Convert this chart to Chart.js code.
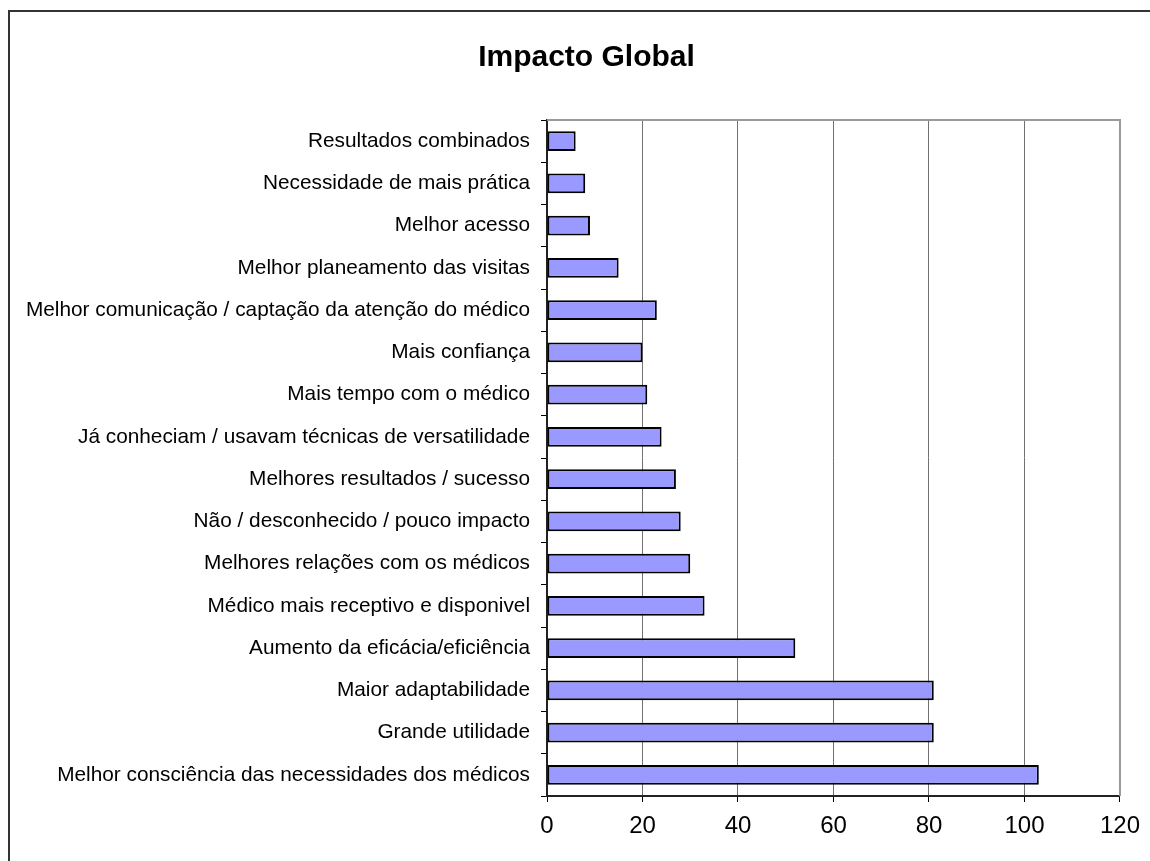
<!DOCTYPE html>
<html>
<head>
  <meta charset="utf-8">
  <script src="https://cdn.jsdelivr.net/npm/chart.js@4.4.1/dist/chart.umd.min.js"></script>
  <style>
    html, body { margin: 0; padding: 0; background: #fff; }
    #wrap { width: 1150px; height: 861px; }
  </style>
</head>
<body>
  <div id="wrap">
    <canvas id="chartContainer" width="1150" height="861"></canvas>
  </div>
  <script>
    const chartTitle = 'Impacto Global';

    const categories = [
      'Resultados combinados',
      'Necessidade de mais prática',
      'Melhor acesso',
      'Melhor planeamento das visitas',
      'Melhor comunicação / captação da atenção do médico',
      'Mais confiança',
      'Mais tempo com o médico',
      'Já conheciam / usavam técnicas de versatilidade',
      'Melhores resultados / sucesso',
      'Não / desconhecido / pouco impacto',
      'Melhores relações com os médicos',
      'Médico mais receptivo e disponivel',
      'Aumento da eficácia/eficiência',
      'Maior adaptabilidade',
      'Grande utilidade',
      'Melhor consciência das necessidades dos médicos'
    ];

    const counts = [6, 8, 9, 15, 23, 20, 21, 24, 27, 28, 30, 33, 52, 81, 81, 103];

    const xTicks = [0, 20, 40, 60, 80, 100, 120];

    // white background, outer frame and grey plot border
    const framePlugin = {
      id: 'frame',
      afterLayout(chart) {
        // let the long category labels use the space left of the axis box
        chart.scales.y.left = 12;
      },
      beforeDraw(chart) {
        const ctx = chart.ctx;
        ctx.save();
        ctx.fillStyle = '#fff';
        ctx.fillRect(0, 0, chart.width, chart.height);
        ctx.strokeStyle = '#333';
        ctx.lineWidth = 2;
        ctx.beginPath();
        ctx.moveTo(9, chart.height);
        ctx.lineTo(9, 11);
        ctx.lineTo(chart.width, 11);
        ctx.stroke();
        ctx.restore();
      },
      beforeDatasetsDraw(chart) {
        const a = chart.chartArea;
        const ctx = chart.ctx;
        ctx.save();
        ctx.strokeStyle = '#999';
        ctx.lineWidth = 2;
        ctx.beginPath();
        ctx.moveTo(a.left, a.top);
        ctx.lineTo(a.right, a.top);
        ctx.lineTo(a.right, a.bottom);
        ctx.stroke();
        ctx.restore();
      }
    };

    const ctx = document.getElementById('chartContainer').getContext('2d');
    const myChart = new Chart(ctx, {
      type: 'bar',
      data: {
        labels: categories,
        datasets: [{
          data: counts,
          backgroundColor: '#9999FF',
          borderColor: '#000',
          borderWidth: 2,
          borderSkipped: false,
          barPercentage: 0.47,
          categoryPercentage: 1
        }]
      },
      options: {
        indexAxis: 'y',
        responsive: false,
        animation: false,
        layout: {
          padding: { left: 51, right: 28, top: 0, bottom: 0 }
        },
        plugins: {
          legend: { display: false },
          tooltip: { enabled: false },
          title: {
            display: true,
            text: chartTitle,
            color: '#000',
            font: { family: 'Liberation Sans, Arial, sans-serif', size: 30, weight: 'bold' },
            padding: { top: 40, bottom: 44 }
          }
        },
        scales: {
          x: {
            min: 0,
            max: 120,
            afterBuildTicks: (axis) => {
              axis.ticks = xTicks.map(v => ({ value: v }));
            },
            afterFit: (axis) => { axis.height = 65; },
            grid: {
              color: '#707070',
              lineWidth: 1,
              tickColor: '#000',
              tickLength: 6,
              drawTicks: true
            },
            border: { color: '#222', width: 2 },
            ticks: {
              color: '#000',
              padding: 10,
              maxRotation: 0,
              font: { family: 'Liberation Sans, Arial, sans-serif', size: 24 }
            }
          },
          y: {
            afterFit: (axis) => { axis.width = 496; },
            grid: {
              offset: true,
              drawOnChartArea: false,
              tickColor: '#000',
              tickLength: 6
            },
            border: { color: '#222', width: 2 },
            ticks: {
              color: '#000',
              padding: 11,
              autoSkip: false,
              font: { family: 'Liberation Sans, Arial, sans-serif', size: 20.8 }
            }
          }
        }
      },
      plugins: [framePlugin]
    });
  </script>
</body>
</html>
